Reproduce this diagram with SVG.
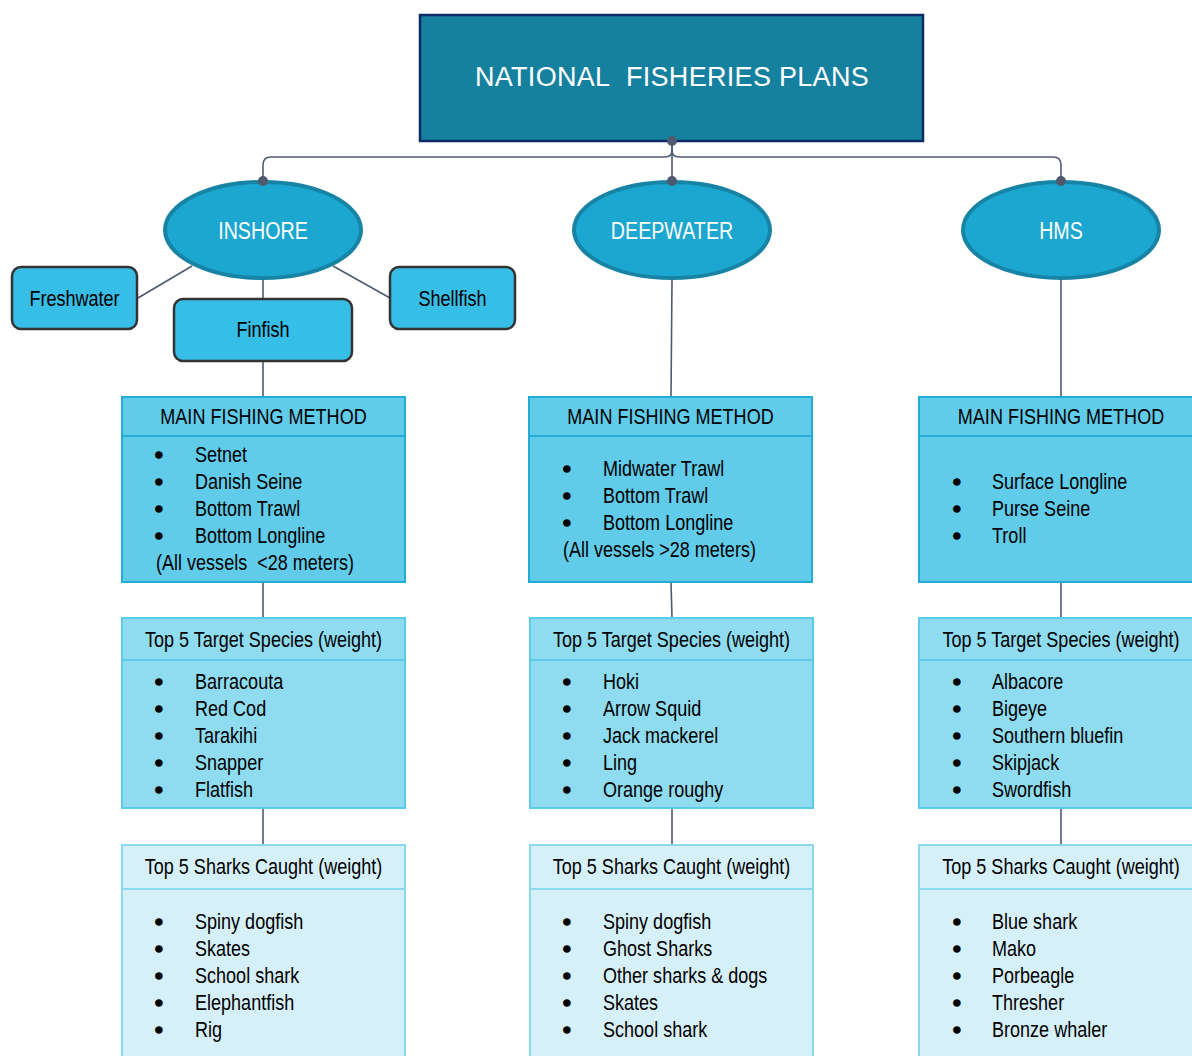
<svg xmlns="http://www.w3.org/2000/svg" width="1192" height="1056" viewBox="0 0 1192 1056">
<style>
  text { font-family: "Liberation Sans", Arial, sans-serif; }
  .title { font-size: 27px; fill: #ffffff; text-anchor: middle; letter-spacing: 0.3px; }
  .ell { fill: #1ba7d0; stroke: #1784a6; stroke-width: 4; }
  .elltxt { font-size: 24px; fill: #ffffff; text-anchor: middle; }
  .sub { fill: #37bee6; stroke: #333333; stroke-width: 2.5; }
  .subtxt { font-size: 22px; fill: #000000; text-anchor: middle; }
  .main { fill: #61cbea; stroke: #24acd6; stroke-width: 2; }
  .tgt { fill: #8fdcf0; stroke: #5ccaea; stroke-width: 2; }
  .shk { fill: #d6f0f9; stroke: #8bd8ef; stroke-width: 2; }
  .hdr { font-size: 22px; fill: #000000; text-anchor: middle; }
  .item { font-size: 22px; fill: #000000; }
  .bul { font-size: 22px; fill: #000000; stroke: #000000; stroke-width: 1.6; }
  .conn { fill: none; stroke: #4f5a70; stroke-width: 1.6; }
  .dot { fill: #4f5a6e; }
</style>

<g id="connectors">
  <path class="conn" d="M672,141 L672,150 Q672,157 665,157 L271,157 Q263,157 263,165 L263,181"/>
  <path class="conn" d="M672,150 Q672,157 679,157 L1053,157 Q1061,157 1061,165 L1061,181"/>
  <path class="conn" d="M672,141 L672,181"/>
  <line class="conn" x1="192" y1="266" x2="138" y2="298"/>
  <line class="conn" x1="333" y1="266" x2="390" y2="298"/>
  <line class="conn" x1="263" y1="279" x2="263" y2="299"/>
  <line class="conn" x1="263" y1="361" x2="263" y2="397"/>
  <line class="conn" x1="672" y1="280" x2="671" y2="397"/>
  <line class="conn" x1="1061" y1="280" x2="1061" y2="397"/>
  <line class="conn" x1="263" y1="582" x2="263" y2="618"/>
  <line class="conn" x1="671" y1="582" x2="672" y2="618"/>
  <line class="conn" x1="1061" y1="582" x2="1061" y2="618"/>
  <line class="conn" x1="263" y1="808" x2="263" y2="845"/>
  <line class="conn" x1="672" y1="808" x2="672" y2="845"/>
  <line class="conn" x1="1061" y1="808" x2="1061" y2="845"/>
</g>

<g id="title">
  <rect x="420" y="15" width="503" height="126" fill="#16819f" stroke="#0b2a66" stroke-width="2.5"/>
  <text class="title" x="672" y="86">NATIONAL&#160; FISHERIES PLANS</text>
</g>

<g id="inshore">
  <ellipse class="ell" cx="263" cy="230" rx="98" ry="48"/>
  <text class="elltxt" transform="translate(263,239) scale(0.82,1)">INSHORE</text>
</g>
<g id="deepwater">
  <ellipse class="ell" cx="672" cy="230" rx="98" ry="48"/>
  <text class="elltxt" transform="translate(672,239) scale(0.82,1)">DEEPWATER</text>
</g>
<g id="hms">
  <ellipse class="ell" cx="1061" cy="230" rx="98" ry="48"/>
  <text class="elltxt" transform="translate(1061,239) scale(0.82,1)">HMS</text>
</g>

<g id="dots">
  <circle class="dot" cx="672" cy="141" r="5"/>
  <circle class="dot" cx="263" cy="181" r="5"/>
  <circle class="dot" cx="672" cy="181" r="5"/>
  <circle class="dot" cx="1061" cy="181" r="5"/>
</g>

<g id="freshwater">
  <rect class="sub" x="12" y="267" width="125" height="62" rx="9"/>
  <text class="subtxt" transform="translate(74.5,306) scale(0.82,1)">Freshwater</text>
</g>
<g id="shellfish">
  <rect class="sub" x="390" y="267" width="125" height="62" rx="9"/>
  <text class="subtxt" transform="translate(452.5,306) scale(0.82,1)">Shellfish</text>
</g>
<g id="finfish">
  <rect class="sub" x="174" y="299" width="178" height="62" rx="9"/>
  <text class="subtxt" transform="translate(263,337) scale(0.82,1)">Finfish</text>
</g>

<!-- INSHORE column -->
<g id="inshore-method">
  <rect class="main" x="122" y="397" width="283" height="185"/>
  <line x1="122" y1="436" x2="405" y2="436" stroke="#24acd6" stroke-width="2"/>
  <text class="hdr" transform="translate(263.5,424) scale(0.82,1)">MAIN FISHING METHOD</text>
  <text class="bul" x="155" y="462">•</text><text class="item" transform="translate(195,462) scale(0.82,1)">Setnet</text>
  <text class="bul" x="155" y="489">•</text><text class="item" transform="translate(195,489) scale(0.82,1)">Danish Seine</text>
  <text class="bul" x="155" y="516">•</text><text class="item" transform="translate(195,516) scale(0.82,1)">Bottom Trawl</text>
  <text class="bul" x="155" y="543">•</text><text class="item" transform="translate(195,543) scale(0.82,1)">Bottom Longline</text>
  <text class="item" transform="translate(156,570) scale(0.82,1)">(All vessels&#160; &lt;28 meters)</text>
</g>
<g id="inshore-target">
  <rect class="tgt" x="122" y="618" width="283" height="190"/>
  <line x1="122" y1="660" x2="405" y2="660" stroke="#5ccaea" stroke-width="2"/>
  <text class="hdr" transform="translate(263.5,647) scale(0.82,1)">Top 5 Target Species (weight)</text>
  <text class="bul" x="155" y="689">•</text><text class="item" transform="translate(195,689) scale(0.82,1)">Barracouta</text>
  <text class="bul" x="155" y="716">•</text><text class="item" transform="translate(195,716) scale(0.82,1)">Red Cod</text>
  <text class="bul" x="155" y="743">•</text><text class="item" transform="translate(195,743) scale(0.82,1)">Tarakihi</text>
  <text class="bul" x="155" y="770">•</text><text class="item" transform="translate(195,770) scale(0.82,1)">Snapper</text>
  <text class="bul" x="155" y="797">•</text><text class="item" transform="translate(195,797) scale(0.82,1)">Flatfish</text>
</g>
<g id="inshore-sharks">
  <rect class="shk" x="122" y="845" width="283" height="220"/>
  <line x1="122" y1="889" x2="405" y2="889" stroke="#8bd8ef" stroke-width="2"/>
  <text class="hdr" transform="translate(263.5,874) scale(0.82,1)">Top 5 Sharks Caught (weight)</text>
  <text class="bul" x="155" y="929">•</text><text class="item" transform="translate(195,929) scale(0.82,1)">Spiny dogfish</text>
  <text class="bul" x="155" y="956">•</text><text class="item" transform="translate(195,956) scale(0.82,1)">Skates</text>
  <text class="bul" x="155" y="983">•</text><text class="item" transform="translate(195,983) scale(0.82,1)">School shark</text>
  <text class="bul" x="155" y="1010">•</text><text class="item" transform="translate(195,1010) scale(0.82,1)">Elephantfish</text>
  <text class="bul" x="155" y="1037">•</text><text class="item" transform="translate(195,1037) scale(0.82,1)">Rig</text>
</g>

<!-- DEEPWATER column -->
<g id="deepwater-method">
  <rect class="main" x="529" y="397" width="283" height="185"/>
  <line x1="529" y1="436" x2="812" y2="436" stroke="#24acd6" stroke-width="2"/>
  <text class="hdr" transform="translate(670.5,424) scale(0.82,1)">MAIN FISHING METHOD</text>
  <text class="bul" x="563" y="476">•</text><text class="item" transform="translate(603,476) scale(0.82,1)">Midwater Trawl</text>
  <text class="bul" x="563" y="503">•</text><text class="item" transform="translate(603,503) scale(0.82,1)">Bottom Trawl</text>
  <text class="bul" x="563" y="530">•</text><text class="item" transform="translate(603,530) scale(0.82,1)">Bottom Longline</text>
  <text class="item" transform="translate(563,557) scale(0.82,1)">(All vessels &gt;28 meters)</text>
</g>
<g id="deepwater-target">
  <rect class="tgt" x="530" y="618" width="283" height="190"/>
  <line x1="530" y1="660" x2="813" y2="660" stroke="#5ccaea" stroke-width="2"/>
  <text class="hdr" transform="translate(671.5,647) scale(0.82,1)">Top 5 Target Species (weight)</text>
  <text class="bul" x="563" y="689">•</text><text class="item" transform="translate(603,689) scale(0.82,1)">Hoki</text>
  <text class="bul" x="563" y="716">•</text><text class="item" transform="translate(603,716) scale(0.82,1)">Arrow Squid</text>
  <text class="bul" x="563" y="743">•</text><text class="item" transform="translate(603,743) scale(0.82,1)">Jack mackerel</text>
  <text class="bul" x="563" y="770">•</text><text class="item" transform="translate(603,770) scale(0.82,1)">Ling</text>
  <text class="bul" x="563" y="797">•</text><text class="item" transform="translate(603,797) scale(0.82,1)">Orange roughy</text>
</g>
<g id="deepwater-sharks">
  <rect class="shk" x="530" y="845" width="283" height="220"/>
  <line x1="530" y1="889" x2="813" y2="889" stroke="#8bd8ef" stroke-width="2"/>
  <text class="hdr" transform="translate(671.5,874) scale(0.82,1)">Top 5 Sharks Caught (weight)</text>
  <text class="bul" x="563" y="929">•</text><text class="item" transform="translate(603,929) scale(0.82,1)">Spiny dogfish</text>
  <text class="bul" x="563" y="956">•</text><text class="item" transform="translate(603,956) scale(0.82,1)">Ghost Sharks</text>
  <text class="bul" x="563" y="983">•</text><text class="item" transform="translate(603,983) scale(0.82,1)">Other sharks &amp; dogs</text>
  <text class="bul" x="563" y="1010">•</text><text class="item" transform="translate(603,1010) scale(0.82,1)">Skates</text>
  <text class="bul" x="563" y="1037">•</text><text class="item" transform="translate(603,1037) scale(0.82,1)">School shark</text>
</g>

<!-- HMS column -->
<g id="hms-method">
  <rect class="main" x="919" y="397" width="283" height="185"/>
  <line x1="919" y1="436" x2="1202" y2="436" stroke="#24acd6" stroke-width="2"/>
  <text class="hdr" transform="translate(1061,424) scale(0.82,1)">MAIN FISHING METHOD</text>
  <text class="bul" x="953" y="489">•</text><text class="item" transform="translate(992,489) scale(0.82,1)">Surface Longline</text>
  <text class="bul" x="953" y="516">•</text><text class="item" transform="translate(992,516) scale(0.82,1)">Purse Seine</text>
  <text class="bul" x="953" y="543">•</text><text class="item" transform="translate(992,543) scale(0.82,1)">Troll</text>
</g>
<g id="hms-target">
  <rect class="tgt" x="919" y="618" width="283" height="190"/>
  <line x1="919" y1="660" x2="1202" y2="660" stroke="#5ccaea" stroke-width="2"/>
  <text class="hdr" transform="translate(1061,647) scale(0.82,1)">Top 5 Target Species (weight)</text>
  <text class="bul" x="953" y="689">•</text><text class="item" transform="translate(992,689) scale(0.82,1)">Albacore</text>
  <text class="bul" x="953" y="716">•</text><text class="item" transform="translate(992,716) scale(0.82,1)">Bigeye</text>
  <text class="bul" x="953" y="743">•</text><text class="item" transform="translate(992,743) scale(0.82,1)">Southern bluefin</text>
  <text class="bul" x="953" y="770">•</text><text class="item" transform="translate(992,770) scale(0.82,1)">Skipjack</text>
  <text class="bul" x="953" y="797">•</text><text class="item" transform="translate(992,797) scale(0.82,1)">Swordfish</text>
</g>
<g id="hms-sharks">
  <rect class="shk" x="919" y="845" width="283" height="220"/>
  <line x1="919" y1="889" x2="1202" y2="889" stroke="#8bd8ef" stroke-width="2"/>
  <text class="hdr" transform="translate(1061,874) scale(0.82,1)">Top 5 Sharks Caught (weight)</text>
  <text class="bul" x="953" y="929">•</text><text class="item" transform="translate(992,929) scale(0.82,1)">Blue shark</text>
  <text class="bul" x="953" y="956">•</text><text class="item" transform="translate(992,956) scale(0.82,1)">Mako</text>
  <text class="bul" x="953" y="983">•</text><text class="item" transform="translate(992,983) scale(0.82,1)">Porbeagle</text>
  <text class="bul" x="953" y="1010">•</text><text class="item" transform="translate(992,1010) scale(0.82,1)">Thresher</text>
  <text class="bul" x="953" y="1037">•</text><text class="item" transform="translate(992,1037) scale(0.82,1)">Bronze whaler</text>
</g>
</svg>
